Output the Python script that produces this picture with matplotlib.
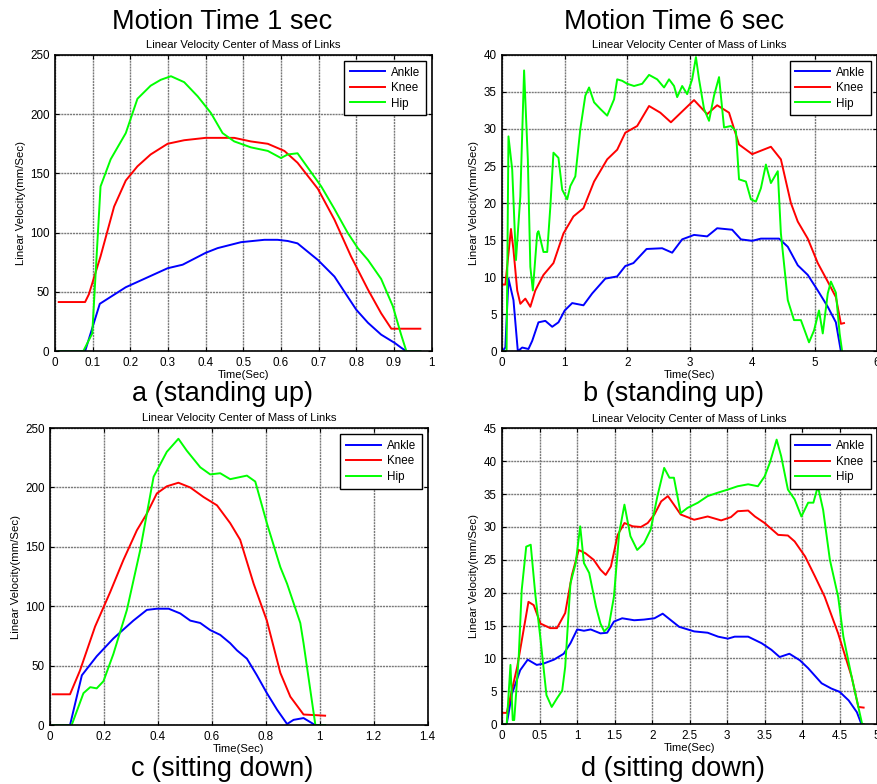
import numpy as np
import matplotlib
matplotlib.use('Agg')
import matplotlib.pyplot as plt

plt.rcParams['font.family'] = ['Liberation Sans', 'DejaVu Sans']

# ---- panel a: standing up, 1 sec ----
a_ankle_t = [0.01, 0.08, 0.119, 0.188, 0.299, 0.339, 0.4, 0.432, 0.494, 0.556, 0.591, 0.618, 0.644,
             0.698, 0.742, 0.773, 0.8, 0.831, 0.866, 0.902, 0.919, 0.933, 0.97]
a_ankle_v = [0, 0, 40, 54, 70, 73, 83, 87, 92, 94, 94, 93, 91, 77, 63, 48, 35, 24, 14, 7, 3, 0, 0]
a_knee_t = [0.01, 0.08, 0.09, 0.121, 0.157, 0.188, 0.219, 0.254, 0.299, 0.343, 0.4, 0.476, 0.52, 0.565,
            0.609, 0.644, 0.698, 0.742, 0.786, 0.831, 0.866, 0.893, 0.97]
a_knee_v = [41.5, 41.5, 48, 80, 122, 144, 156, 166, 175, 178, 180, 180, 177, 175, 169, 159, 137, 111,
            80, 52, 32, 19, 19]
a_hip_t = [0.01, 0.075, 0.099, 0.121, 0.148, 0.188, 0.219, 0.254, 0.281, 0.308, 0.343, 0.379, 0.414,
           0.445, 0.476, 0.52, 0.565, 0.6, 0.618, 0.644, 0.671, 0.707, 0.742, 0.777, 0.804, 0.831,
           0.866, 0.897, 0.919, 0.933, 0.97]
a_hip_v = [0, 0, 15, 139, 162, 184, 213, 224, 229, 232, 227, 215, 201, 184, 177, 172, 169, 163, 166,
           167, 155, 139, 120, 100, 87, 77, 61, 38, 14, 0, 0]

# ---- panel b: standing up, 6 sec ----
b_ankle_t = [0.0, 0.05, 0.1, 0.18, 0.25, 0.32, 0.42, 0.48, 0.58, 0.69, 0.8, 0.9, 1.0, 1.12, 1.3, 1.44,
             1.65, 1.84, 1.97, 2.1, 2.31, 2.56, 2.72, 2.88, 3.07, 3.28, 3.44, 3.68, 3.82, 4.0, 4.14,
             4.43, 4.57, 4.73, 4.89, 5.05, 5.21, 5.34, 5.42]
b_ankle_v = [0, 0.5, 9.8, 6.9, 0, 0.5, 0.3, 1.4, 3.9, 4.1, 3.3, 3.9, 5.5, 6.5, 6.2, 7.8, 9.8, 10.1,
             11.5, 11.9, 13.8, 13.9, 13.3, 15.1, 15.7, 15.5, 16.6, 16.4, 15.1, 14.9, 15.2, 15.2, 14.1,
             11.6, 10.3, 8.2, 6.0, 3.9, 0]
b_knee_t = [0.0, 0.05, 0.14, 0.18, 0.24, 0.29, 0.37, 0.45, 0.53, 0.66, 0.82, 0.98, 1.14, 1.3, 1.47,
            1.68, 1.84, 1.97, 2.16, 2.35, 2.53, 2.7, 2.86, 3.07, 3.28, 3.44, 3.63, 3.79, 4.0, 4.3,
            4.46, 4.62, 4.73, 4.89, 5.05, 5.21, 5.34, 5.42, 5.47]
b_knee_v = [9, 9, 16.5, 13.7, 8.2, 6.4, 7.1, 6.0, 8.2, 10.3, 11.9, 15.9, 18.2, 19.3, 22.9, 25.9, 27.2,
            29.5, 30.4, 33.1, 32.2, 30.9, 32.2, 33.9, 32.0, 33.2, 32.2, 27.9, 26.6, 27.6, 25.9, 20.0,
            17.5, 15.2, 11.9, 9.4, 7.3, 3.7, 3.8]
b_hip_t = [0.0, 0.07, 0.1, 0.16, 0.22, 0.29, 0.35, 0.41, 0.45, 0.49, 0.56, 0.58, 0.66, 0.72, 0.77,
           0.82, 0.9, 0.96, 1.04, 1.09, 1.17, 1.25, 1.33, 1.39, 1.47, 1.57, 1.68, 1.79, 1.84, 1.92,
           2.0, 2.11, 2.24, 2.35, 2.48, 2.59, 2.67, 2.75, 2.8, 2.88, 2.96, 3.04, 3.1, 3.15, 3.23,
           3.31, 3.39, 3.47, 3.55, 3.66, 3.74, 3.79, 3.9, 3.98, 4.06, 4.14, 4.22, 4.3, 4.41, 4.46,
           4.57, 4.67, 4.78, 4.91, 4.99, 5.07, 5.13, 5.21, 5.26, 5.34, 5.4, 5.44]
b_hip_v = [0, 0, 29, 24.5, 12.3, 20.9, 37.9, 25.9, 11.4, 8.2, 15.9, 16.2, 13.4, 13.4, 19.5, 26.8,
           26.1, 21.8, 20.5, 22.3, 23.6, 30.0, 34.5, 35.6, 33.6, 32.7, 31.8, 34.0, 36.7, 36.5, 36.1,
           35.8, 36.1, 37.3, 36.7, 35.6, 36.7, 35.8, 34.3, 35.8, 34.7, 36.7, 39.7, 36.7, 32.7, 31.1,
           34.5, 37.0, 30.2, 30.4, 29.7, 23.2, 22.9, 20.5, 20.2, 22.0, 25.2, 22.7, 24.3, 15.9, 6.9,
           4.2, 4.2, 1.2, 2.8, 5.5, 2.4, 7.8, 9.4, 7.9, 2.4, 0]

# ---- panel c: sitting down, 1 sec ----
c_ankle_t = [0.01, 0.074, 0.118, 0.173, 0.235, 0.309, 0.359, 0.396, 0.44, 0.483, 0.52, 0.557, 0.594,
             0.631, 0.668, 0.693, 0.73, 0.767, 0.804, 0.842, 0.879, 0.903, 0.94, 0.984, 1.02]
c_ankle_v = [0, 0, 42, 58, 73, 88, 97, 98, 98, 94, 88, 86, 80, 76, 69, 63, 56, 42, 27, 13, 1, 4.5, 6,
             0, 0]
c_knee_t = [0.01, 0.074, 0.111, 0.167, 0.223, 0.272, 0.322, 0.359, 0.396, 0.433, 0.476, 0.52, 0.569,
            0.619, 0.668, 0.705, 0.755, 0.804, 0.854, 0.891, 0.94, 1.02]
c_knee_v = [26, 26, 46, 83, 112, 139, 164, 178, 195, 201, 204, 200, 192, 185, 170, 156, 119, 88, 44,
            24, 9, 8]
c_hip_t = [0.01, 0.08, 0.124, 0.149, 0.173, 0.198, 0.235, 0.285, 0.334, 0.384, 0.433, 0.476, 0.507,
           0.557, 0.594, 0.631, 0.668, 0.73, 0.761, 0.804, 0.854, 0.879, 0.928, 0.94, 0.984, 1.02]
c_hip_v = [0, 0, 27, 32, 31, 37, 60, 97, 147, 209, 230, 241, 231, 217, 211, 212, 207, 210, 205, 170,
           133, 119, 86, 69, 0, 0]

# ---- panel d: sitting down, 6 sec ----
d_ankle_t = [0.0, 0.06, 0.13, 0.24, 0.34, 0.46, 0.55, 0.69, 0.82, 0.91, 1.0, 1.09, 1.18, 1.31, 1.4,
             1.49, 1.6, 1.76, 1.89, 2.03, 2.14, 2.25, 2.36, 2.56, 2.74, 2.88, 3.01, 3.1, 3.28, 3.46,
             3.59, 3.7, 3.83, 3.97, 4.08, 4.26, 4.39, 4.5, 4.62, 4.73, 4.79]
d_ankle_v = [0, 0, 4.6, 8.2, 9.8, 9.0, 9.2, 9.8, 10.7, 12.3, 14.4, 14.2, 14.4, 13.8, 13.9, 15.6, 16.1,
             15.8, 15.9, 16.1, 16.8, 15.8, 14.8, 14.1, 13.9, 13.3, 13.0, 13.3, 13.3, 12.3, 11.3, 10.2,
             10.7, 9.7, 8.5, 6.2, 5.4, 4.9, 3.6, 1.8, 0]
d_knee_t = [0.0, 0.06, 0.2, 0.35, 0.42, 0.51, 0.64, 0.73, 0.84, 0.93, 1.02, 1.11, 1.22, 1.31, 1.38,
            1.45, 1.54, 1.63, 1.74, 1.85, 1.94, 2.03, 2.12, 2.21, 2.29, 2.38, 2.56, 2.74, 2.92, 3.05,
            3.14, 3.28, 3.37, 3.5, 3.68, 3.81, 3.9, 4.04, 4.17, 4.3, 4.48, 4.66, 4.75, 4.82]
d_knee_v = [1.7, 1.7, 8.7, 18.6, 18.1, 15.3, 14.6, 14.6, 16.9, 22.7, 26.5, 26.0, 25.0, 23.5, 22.7,
            24.0, 28.8, 30.6, 30.1, 30.0, 30.6, 31.9, 33.9, 34.7, 33.4, 31.9, 31.1, 31.6, 31.0, 31.5,
            32.4, 32.5, 31.6, 30.6, 28.8, 28.7, 27.8, 25.5, 22.5, 19.4, 13.8, 7.2, 2.6, 2.5]
d_hip_t = [0.0, 0.06, 0.11, 0.14, 0.16, 0.22, 0.26, 0.32, 0.38, 0.44, 0.51, 0.59, 0.66, 0.73, 0.8,
           0.84, 0.91, 0.98, 1.04, 1.09, 1.16, 1.25, 1.31, 1.36, 1.42, 1.49, 1.56, 1.63, 1.71, 1.8,
           1.89, 1.98, 2.07, 2.16, 2.23, 2.29, 2.38, 2.47, 2.61, 2.74, 2.87, 3.01, 3.14, 3.28, 3.41,
           3.5, 3.57, 3.66, 3.72, 3.81, 3.9, 3.99, 4.08, 4.15, 4.21, 4.28, 4.37, 4.48, 4.55, 4.66,
           4.8, 4.82]
d_hip_v = [0, 0, 9.0, 0.6, 0.6, 10.2, 20.4, 27.0, 27.3, 19.9, 13.0, 4.4, 2.6, 3.9, 5.1, 8.7, 21.4,
           24.5, 30.1, 24.5, 23.0, 17.9, 15.3, 14.1, 14.8, 19.4, 29.1, 33.4, 28.6, 26.5, 27.5, 29.6,
           34.7, 39.0, 37.5, 37.5, 32.1, 32.9, 33.7, 34.7, 35.2, 35.7, 36.2, 36.5, 36.2, 37.7, 39.8,
           43.3, 40.8, 35.7, 34.2, 31.6, 33.7, 33.7, 36.2, 32.6, 25.0, 19.4, 13.3, 7.2, 0, 0]

panels = [
    # rect, data, xlim, xticks, ylim, yticks
    ([0.0626, 0.552, 0.429, 0.378], (a_ankle_t, a_ankle_v, a_knee_t, a_knee_v, a_hip_t, a_hip_v),
     (0, 1), np.arange(0, 1.01, 0.1), (0, 250), np.arange(0, 251, 50)),
    ([0.572, 0.552, 0.427, 0.378], (b_ankle_t, b_ankle_v, b_knee_t, b_knee_v, b_hip_t, b_hip_v),
     (0, 6), np.arange(0, 7, 1), (0, 40), np.arange(0, 41, 5)),
    ([0.057, 0.075, 0.430, 0.379], (c_ankle_t, c_ankle_v, c_knee_t, c_knee_v, c_hip_t, c_hip_v),
     (0, 1.4), np.arange(0, 1.41, 0.2), (0, 250), np.arange(0, 251, 50)),
    ([0.572, 0.0765, 0.427, 0.377], (d_ankle_t, d_ankle_v, d_knee_t, d_knee_v, d_hip_t, d_hip_v),
     (0, 5), np.arange(0, 5.1, 0.5), (0, 45), np.arange(0, 46, 5)),
]

fig = plt.figure(figsize=(8.78, 7.84), dpi=100)

for rect, d, xl, xt, yl, yt in panels:
    ax = fig.add_axes(rect)
    ax.plot(d[0], d[1], color='#0000ff', lw=1.4, label='Ankle')
    ax.plot(d[2], d[3], color='#ff0000', lw=1.4, label='Knee')
    ax.plot(d[4], d[5], color='#00ff00', lw=1.4, label='Hip')
    ax.set_xlim(*xl)
    ax.set_ylim(*yl)
    ax.set_xticks(xt)
    ax.set_yticks(yt)
    ax.set_xticklabels(['%g' % v for v in xt])
    ax.grid(True, color='#7a7a7a', linestyle=(0, (1.5, 0.6)), linewidth=1.0)
    ax.tick_params(direction='in', top=True, right=True, length=3, labelsize=8.4, pad=4)
    for s in ax.spines.values():
        s.set_linewidth(1.2)
    ax.set_title('Linear Velocity Center of Mass of Links', fontsize=8.1, pad=5)
    ax.set_xlabel('Time(Sec)', fontsize=8.1, labelpad=1)
    ax.set_ylabel('Linear Velocity(mm/Sec)', fontsize=8.2, labelpad=3)
    leg = ax.legend(loc='upper right', fontsize=8.4, handlelength=3.0, fancybox=False,
                    framealpha=1, edgecolor='black', borderaxespad=0.5, labelspacing=0.3,
                    handletextpad=0.5, borderpad=0.5)
    leg.get_frame().set_linewidth(1.0)

big = 19.5
fig.text(0.253, 0.972, 'Motion Time 1 sec', fontsize=big, ha='center', va='center')
fig.text(0.768, 0.972, 'Motion Time 6 sec', fontsize=big, ha='center', va='center')
fig.text(0.253, 0.497, 'a (standing up)', fontsize=big, ha='center', va='center')
fig.text(0.767, 0.497, 'b (standing up)', fontsize=big, ha='center', va='center')
fig.text(0.253, 0.019, 'c (sitting down)', fontsize=big, ha='center', va='center')
fig.text(0.767, 0.019, 'd (sitting down)', fontsize=big, ha='center', va='center')

fig.savefig('out.png', dpi=100)
